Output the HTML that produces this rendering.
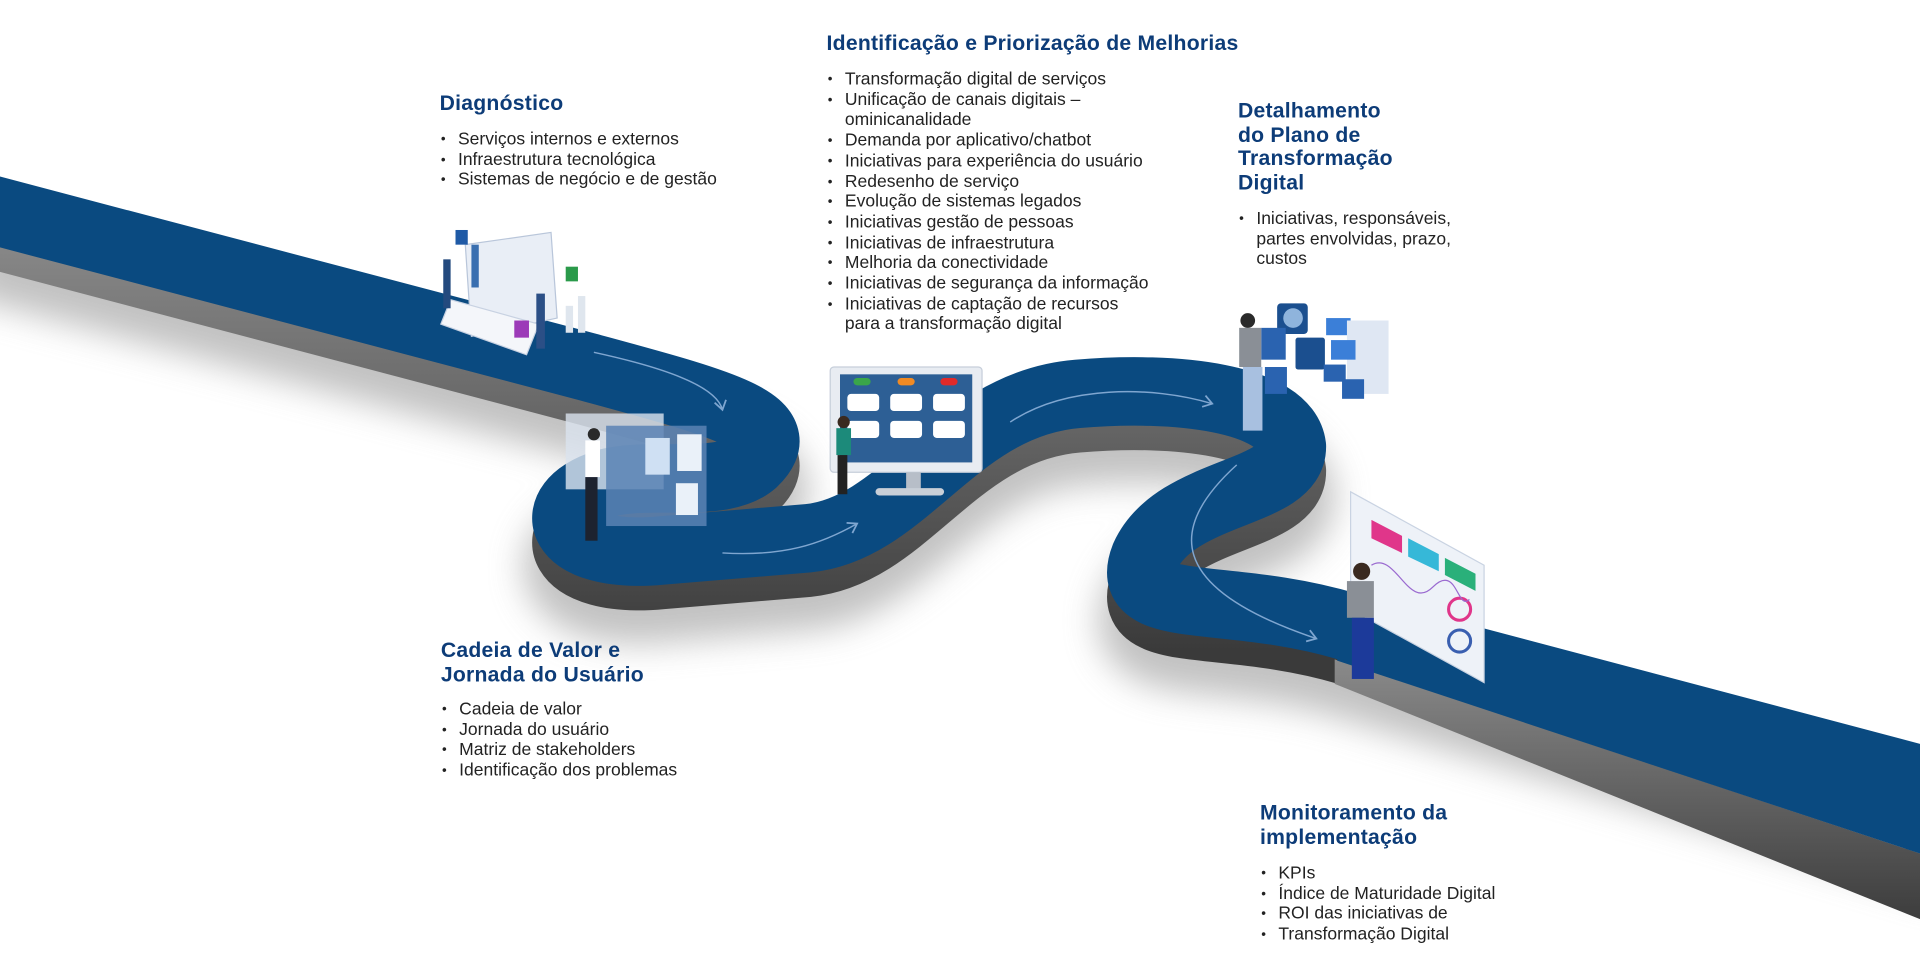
<!DOCTYPE html>
<html><head><meta charset="utf-8"><style>
html,body{margin:0;padding:0;background:#fff;overflow:hidden}
#s{position:absolute;left:0;top:0;width:1568px;height:797px;transform:scale(1.22449,1.22334);transform-origin:0 0;font-family:"Liberation Sans",sans-serif;}
svg{position:absolute;left:0;top:0}
.h{position:absolute;color:#0d3c78;font-weight:bold;font-size:17.3px;line-height:19.5px;letter-spacing:0.2px}
ul{position:absolute;margin:0;padding:0;list-style:none;font-size:14.3px;line-height:16.7px;color:#222}
li{position:relative;padding-left:14px;white-space:nowrap}
li:before{content:"•";position:absolute;left:0;top:0;font-size:11px}
</style></head><body><div id="s">
<svg width="1568" height="797" viewBox="0 0 1568 797">
<defs>
<filter id="b" x="-20%" y="-20%" width="140%" height="140%"><feGaussianBlur stdDeviation="14"/></filter>
<linearGradient id="w" x1="0" y1="0" x2="0" y2="1"><stop offset="0" stop-color="#8a8a8a"/><stop offset="1" stop-color="#3a3a3a"/></linearGradient>
<marker id="a" markerWidth="10" markerHeight="10" refX="7" refY="5" orient="auto"><path d="M1,1 L7,5 L1,9" fill="none" stroke="#7fa6d0" stroke-width="1.2"/></marker>
</defs>
<g fill="none" stroke-linecap="butt" stroke-linejoin="round">
<path d="M-20,168 L480,300 C590,330 650,345 615,378 C590,400 530,385 495,395 C440,412 455,458 540,450 L660,440 C740,432 780,330 880,322 C960,315 1050,325 1055,365 C1055,405 960,400 935,455 C915,505 1000,482 1100,512 L1600,662" stroke="#999" stroke-width="70" filter="url(#b)" transform="translate(0,40)" opacity="0.6"/>
<path d="M-20,168 L480,300 C590,330 650,345 615,378 C590,400 530,385 495,395 C440,412 455,458 540,450 L660,440 C740,432 780,330 880,322 C960,315 1050,325 1055,365 C1055,405 960,400 935,455 C915,505 1000,482 1100,512 L1102,512.6" stroke="url(#w)" stroke-width="56" transform="translate(0,20)"/>
<polygon points="1090,539 1587,704 1587,759 1090,559" fill="url(#w)" stroke="none"/>
<path d="M-20,168 L480,300 C590,330 650,345 615,378 C590,400 530,385 495,395 C440,412 455,458 540,450 L660,440 C740,432 780,330 880,322 C960,315 1050,325 1055,365 C1055,405 960,400 935,455 C915,505 1000,482 1100,512 L1102,512.6" stroke="#0a4a80" stroke-width="56"/>
<polygon points="1100,484 1613,620 1587,704 1092,540" fill="#0a4a80" stroke="none"/>
</g>
<g fill="none" stroke="#7fa6d0" stroke-width="1.2">
<path d="M485,288 C540,300 585,315 590,335" marker-end="url(#a)"/>
<path d="M590,452 C640,455 670,445 700,428" marker-end="url(#a)"/>
<path d="M825,345 C870,315 940,315 990,330" marker-end="url(#a)"/>
<path d="M1010,380 C955,430 950,480 1075,522" marker-end="url(#a)"/>
</g>
<g>
<polygon points="380,200 450,190 455,260 385,275" fill="#e9eef6" stroke="#b9c6da"/>
<polygon points="368,245 440,265 430,290 360,265" fill="#f4f6fa" stroke="#c8d2e2"/>
<rect x="372" y="188" width="10" height="12" fill="#1f5aa6"/>
<rect x="462" y="218" width="10" height="12" fill="#2a9a4a"/>
<rect x="420" y="262" width="12" height="14" fill="#9c3ab8"/>
<rect x="462" y="250" width="6" height="22" fill="#dfe6ee"/><rect x="472" y="242" width="6" height="30" fill="#dfe6ee"/>
<rect x="362" y="212" width="6" height="40" fill="#234a7e"/><rect x="385" y="200" width="6" height="35" fill="#3a6fb0"/><rect x="438" y="240" width="7" height="45" fill="#2b4f86"/>
</g>
<g>
<rect x="462" y="338" width="80" height="62" fill="#dbe4ef" opacity=".8"/>
<rect x="495" y="348" width="82" height="82" fill="#5a82b4" opacity=".85"/>
<rect x="527" y="358" width="20" height="30" fill="#cfe0f3"/><rect x="553" y="355" width="20" height="30" fill="#eaf1f9"/><rect x="552" y="395" width="18" height="26" fill="#eaf1f9"/>
<rect x="478" y="360" width="12" height="30" fill="#fff"/><rect x="478" y="390" width="10" height="52" fill="#1d2330"/>
<circle cx="485" cy="355" r="5" fill="#2a2a2a"/>
</g>
<g>
<rect x="678" y="300" width="124" height="86" rx="3" fill="#e8ecf2" stroke="#c6ceda"/>
<rect x="686" y="306" width="108" height="72" fill="#2d5f95"/>
<rect x="740" y="386" width="12" height="14" fill="#b7bec8"/><rect x="715" y="399" width="56" height="6" rx="3" fill="#c9cfd7"/>
<g fill="#fff"><rect x="692" y="322" width="26" height="14" rx="3"/><rect x="727" y="322" width="26" height="14" rx="3"/><rect x="762" y="322" width="26" height="14" rx="3"/><rect x="692" y="344" width="26" height="14" rx="3"/><rect x="727" y="344" width="26" height="14" rx="3"/><rect x="762" y="344" width="26" height="14" rx="3"/></g>
<rect x="697" y="309" width="14" height="6" rx="3" fill="#3aa64a"/><rect x="733" y="309" width="14" height="6" rx="3" fill="#f08a24"/><rect x="768" y="309" width="14" height="6" rx="3" fill="#e02a2a"/>
<rect x="683" y="350" width="12" height="22" fill="#1c8a7a"/><rect x="684" y="372" width="8" height="32" fill="#222"/><circle cx="689" cy="345" r="5" fill="#3a2a20"/>
</g>
<g>
<rect x="1043" y="248" width="25" height="25" rx="3" fill="#1b4f8f"/><circle cx="1056" cy="260" r="8" fill="#8fb4dc"/>
<rect x="1030" y="268" width="20" height="26" fill="#2a63b0"/><rect x="1058" y="276" width="24" height="26" rx="2" fill="#1b4f8f"/>
<rect x="1083" y="260" width="20" height="14" fill="#3b7fd8"/><rect x="1100" y="262" width="34" height="60" fill="#dfe7f3"/>
<rect x="1087" y="278" width="20" height="16" fill="#3b7fd8"/><rect x="1081" y="298" width="18" height="14" fill="#2a63b0"/><rect x="1096" y="310" width="18" height="16" fill="#2a63b0"/>
<rect x="1033" y="300" width="18" height="22" fill="#2a63b0"/>
<rect x="1012" y="268" width="18" height="32" fill="#8a8f96"/><rect x="1015" y="300" width="16" height="52" fill="#a8c0e0"/><circle cx="1019" cy="262" r="6" fill="#2a2a2a"/>
</g>
<g>
<polygon points="1103,402 1212,462 1212,558 1103,498" fill="#eef2f8" stroke="#c9d3e2"/>
<polygon points="1120,425 1145,438 1145,452 1120,440" fill="#e0368a"/>
<polygon points="1150,440 1175,453 1175,467 1150,455" fill="#36b8d8"/>
<polygon points="1180,456 1205,469 1205,483 1180,470" fill="#2ab07a"/>
<circle cx="1192" cy="498" r="9" fill="none" stroke="#e0368a" stroke-width="2.5"/><circle cx="1192" cy="524" r="9" fill="none" stroke="#3a5fb0" stroke-width="2.5"/>
<path d="M1120,462 C1140,450 1150,500 1170,480 S1190,500 1200,490" stroke="#9a6ad0" fill="none"/>
<rect x="1100" y="475" width="22" height="30" fill="#8a8f96"/><rect x="1104" y="505" width="18" height="50" fill="#1c3a9a"/><circle cx="1112" cy="467" r="7" fill="#3a2a20"/>
</g>
</svg>
<div class="h" style="left:359px;top:75px">Diagnóstico</div>
<ul style="left:360px;top:106px"><li>Serviços internos e externos</li><li>Infraestrutura tecnológica</li><li>Sistemas de negócio e de gestão</li></ul>
<div class="h" style="left:675px;top:26px">Identificação e Priorização de Melhorias</div>
<ul style="left:676px;top:57px"><li>Transformação digital de serviços</li><li>Unificação de canais digitais –<br>ominicanalidade</li><li>Demanda por aplicativo/chatbot</li><li>Iniciativas para experiência do usuário</li><li>Redesenho de serviço</li><li>Evolução de sistemas legados</li><li>Iniciativas gestão de pessoas</li><li>Iniciativas de infraestrutura</li><li>Melhoria da conectividade</li><li>Iniciativas de segurança da informação</li><li>Iniciativas de captação de recursos<br>para a transformação digital</li></ul>
<div class="h" style="left:1011px;top:81px">Detalhamento<br>do Plano de<br>Transformação<br>Digital</div>
<ul style="left:1012px;top:171px"><li>Iniciativas, responsáveis,<br>partes envolvidas, prazo,<br>custos</li></ul>
<div class="h" style="left:360px;top:522px">Cadeia de Valor e<br>Jornada do Usuário</div>
<ul style="left:361px;top:572px"><li>Cadeia de valor</li><li>Jornada do usuário</li><li>Matriz de stakeholders</li><li>Identificação dos problemas</li></ul>
<div class="h" style="left:1029px;top:655px">Monitoramento da<br>implementação</div>
<ul style="left:1030px;top:706px"><li>KPIs</li><li>Índice de Maturidade Digital</li><li>ROI das iniciativas de</li><li>Transformação Digital</li></ul>
</div></body></html>
